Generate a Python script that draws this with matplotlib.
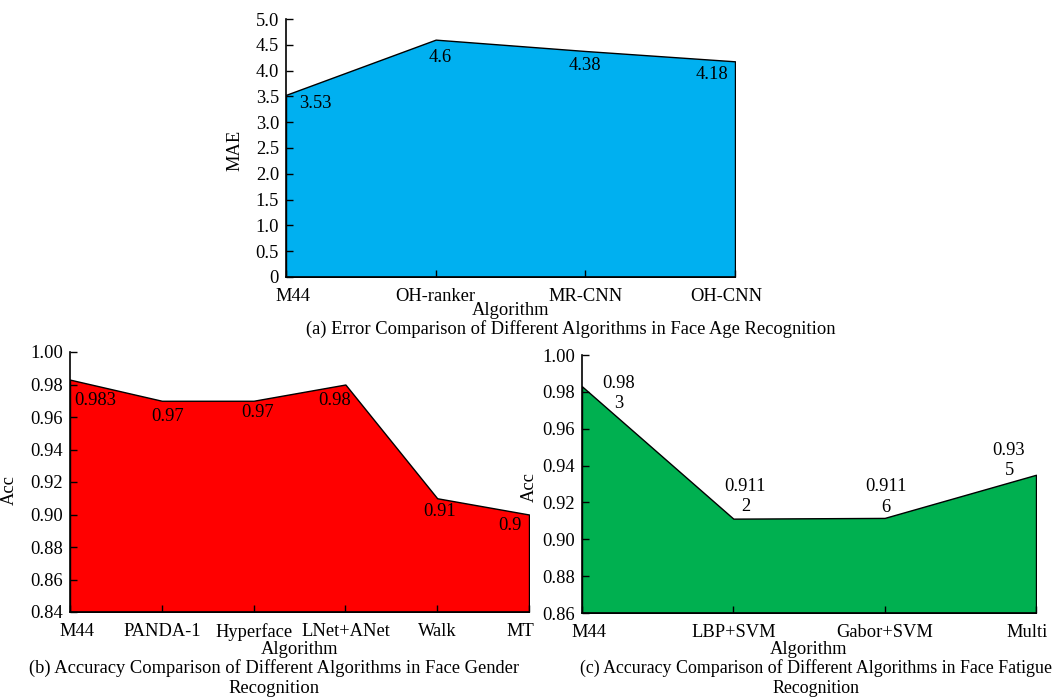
import matplotlib
matplotlib.use("Agg")
import matplotlib.pyplot as plt
from matplotlib.transforms import ScaledTranslation

plt.rcParams['font.family'] = ['Liberation Serif', 'DejaVu Serif']
plt.rcParams['font.size'] = 13.3

# (a) face age recognition
age_algos = ["M44", "OH-ranker", "MR-CNN", "OH-CNN"]
age_mae = [3.53, 4.6, 4.38, 4.18]
age_ticks = [0, 0.5, 1.0, 1.5, 2.0, 2.5, 3.0, 3.5, 4.0, 4.5, 5.0]

# (b) face gender recognition
gender_algos = ["M44", "PANDA-1", "Hyperface", "LNet+ANet", "Walk", "MT"]
gender_acc = [0.983, 0.97, 0.97, 0.98, 0.91, 0.9]

# (c) face fatigue recognition
fatigue_algos = ["M44", "LBP+SVM", "Gabor+SVM", "Multi"]
fatigue_acc = [0.983, 0.9112, 0.9116, 0.935]

acc_ticks = [0.84, 0.86, 0.88, 0.90, 0.92, 0.94, 0.96, 0.98, 1.00]

fig = plt.figure(figsize=(10.64, 6.99), dpi=100)
W, H = 1064, 699


def px_axes(left, top, right, bottom):
    return fig.add_axes([left / W, 1 - bottom / H, (right - left) / W, (bottom - top) / H])


def area(ax, names, vals, color, ymin, ymax, yticks, yfmt, ylab, ylab_xy, xlab_pad=0):
    x = list(range(len(names)))
    ax.fill_between(x, ymin, vals, facecolor=color, edgecolor="black", linewidth=1, zorder=1)
    ax.set_xlim(0, len(names) - 1)
    ax.set_ylim(ymin, ymax)
    ax.set_xticks(x)
    ax.set_xticklabels(names)
    ax.set_yticks(yticks)
    ax.set_yticklabels([yfmt(v) for v in yticks])
    ax.tick_params(axis="both", direction="in", length=5, width=1, zorder=3)
    ax.tick_params(axis="y", pad=5)
    ax.tick_params(axis="x", pad=8)
    for s in ("top", "right"):
        ax.spines[s].set_visible(False)
    for s in ("left", "bottom"):
        ax.spines[s].set_linewidth(1.2)
        ax.spines[s].set_zorder(3)
    ax.set_axisbelow(False)
    ax.set_ylabel(ylab)
    ax.yaxis.set_label_coords(*ylab_xy)
    ax.set_xlabel("Algorithm", labelpad=xlab_pad)
    # nudge the end labels inward
    lbls = ax.get_xticklabels()
    lbls[0].set_transform(lbls[0].get_transform() + ScaledTranslation(7 / 100, 0, fig.dpi_scale_trans))
    lbls[-1].set_transform(lbls[-1].get_transform() + ScaledTranslation(-9 / 100, 0, fig.dpi_scale_trans))


def value_labels(ax, vals, offsets, wrap=False):
    for i, (v, (dx, dy)) in enumerate(zip(vals, offsets)):
        s = str(v)
        if wrap:
            s = s[:-1] + "\n" + s[-1]
        ax.annotate(s, (i, v), xytext=(dx, dy), textcoords="offset pixels",
                    ha="center", va="center", multialignment="center",
                    linespacing=1.25, zorder=4)


ax1 = px_axes(286, 19, 735, 277)
area(ax1, age_algos, age_mae, "#00B0F0", 0, 5.0, age_ticks,
     lambda v: "0" if v == 0 else f"{v:.1f}", "MAE", (-0.095, 0.49), xlab_pad=-2)
value_labels(ax1, age_mae, [(29, -9), (5, -18), (0, -15), (-23, -13)])

ax2 = px_axes(70, 352, 529, 612)
area(ax2, gender_algos, gender_acc, "#FF0000", 0.84, 1.00, acc_ticks,
     lambda v: f"{v:.2f}", "Acc", (-0.113, 0.47))
value_labels(ax2, gender_acc, [(25, -21), (6, -16), (4, -12), (-11, -16), (2, -13), (-19, -11)])

ax3 = px_axes(582, 355, 1036, 613)
area(ax3, fatigue_algos, fatigue_acc, "#00B050", 0.86, 1.00, acc_ticks[1:],
     lambda v: f"{v:.2f}", "Acc", (-0.097, 0.49))
value_labels(ax3, fatigue_acc, [(37, -7), (12, 22), (1, 21), (-27, 14)], wrap=True)

fig.text(306 / W, 1 - 329 / H, "(a) Error Comparison of Different Algorithms in Face Age Recognition",
         ha="left", va="center")
fig.text(274 / W, 1 - 678 / H, "(b) Accuracy Comparison of Different Algorithms in Face Gender\nRecognition",
         ha="center", va="center", linespacing=1.2)
fig.text(816 / W, 1 - 678 / H, "(c) Accuracy Comparison of Different Algorithms in Face Fatigue\nRecognition",
         ha="center", va="center", linespacing=1.25, fontsize=12.9)

fig.savefig("out.png", dpi=100)
